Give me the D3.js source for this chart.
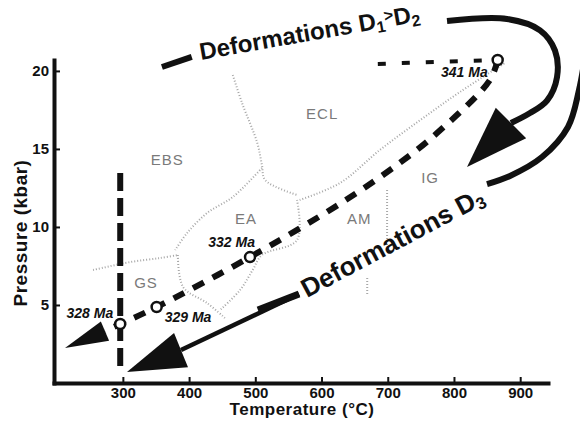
<!DOCTYPE html>
<html>
<head>
<meta charset="utf-8">
<script src="https://cdn.jsdelivr.net/npm/d3@7"></script>
<style>
  body { margin: 0; background: #fff; }
  svg { display: block; font-family: "Liberation Sans", Arial, sans-serif; }
</style>
</head>
<body>
<div id="chart"></div>
<script>
// P-T path (temperature in °C, pressure in kbar)
const pathT = [866, 854, 774, 718, 632, 492, 351, 296, 273];
const pathP = [20.7, 19.4, 16.0, 14.1, 11.6, 8.07, 4.87, 3.78, 3.33];
const pathTip = [212.6, 2.24];

// upper, flat part of the path before 341 Ma
const topT = [685, 862];
const topP = [20.45, 20.7];

// dated points
const ageLabels = ["341 Ma", "332 Ma", "329 Ma", "328 Ma"];
const ageT = [866, 492, 351, 296];
const ageP = [20.7, 8.07, 4.87, 3.78];

// vertical dashed line near 300 °C
const isoT = 296;
const isoP = [13.46, 1.09];

// facies fields
const zoneNames = ["EBS", "ECL", "EA", "AM", "IG", "GS"];
const zoneT = [367, 601, 486, 657, 764, 335];
const zoneP = [14.3, 17.24, 10.57, 10.57, 13.2, 6.47];

// faint facies boundaries [T, P]
const boundaries = [
  [[466, 19.74], [480, 17.94], [503, 15.38], [510, 13.97], [515, 13.0], [563, 12.05]],
  [[510, 13.78], [466, 11.92], [427, 10.89], [397, 9.61], [379, 8.52]],
  [[255, 7.24], [311, 7.75], [356, 8.01], [383, 8.2]],
  [[383, 8.2], [391, 6.15], [427, 5.13], [454, 4.17]],
  [[567, 11.73], [628, 12.82], [688, 14.93], [749, 16.85], [809, 18.65], [877, 20.51]],
  [[563, 11.73], [563, 9.16], [510, 8.2], [496, 7.24], [477, 5.96], [447, 4.68]],
  [[699, 12.37], [699, 8.84]],
  [[669, 6.73], [669, 5.64]]
];

// deformation arrows [T, P]
const d12Lead = [[359, 20.25], [404, 20.9]];
const d12Text = [418, 20.7];
const d12Curve = [[789.5, 23.2], [880, 23.33], [930, 22.6], [952.6, 21.3], [955.6, 19.6], [940.5, 18.1], [914.8, 17.3], [886.1, 16.66]];
const d12Tip = [819.7, 13.84];

const d3Curve = [[999.4, 21.34], [988.8, 18.78], [972.2, 16.41], [933, 14.48], [884.6, 13.27], [849.9, 12.75]];
const d3Text = [578, 5.45];
const d3Lead = [[566, 5.7], [504, 4.68]];
const d3Line = [[566, 5.7], [387.8, 2.11]];
const d3Tip = [306.2, 0.7];

const xTicks = [300, 400, 500, 600, 700, 800, 900];
const yTicks = [5, 10, 15, 20];

const width = 580, height = 421;
const ink = "#111";

const svg = d3.select("#chart").append("svg")
  .attr("width", width)
  .attr("height", height);

const x = d3.scaleLinear().domain([196, 942]).range([54, 548]);
const y = d3.scaleLinear().domain([0, 20.7]).range([383, 60]);

const line = d3.line().x(d => x(d[0])).y(d => y(d[1]));
const curvy = d3.line().x(d => x(d[0])).y(d => y(d[1])).curve(d3.curveCatmullRom);

// facies boundaries
svg.append("g")
  .attr("fill", "none")
  .attr("stroke", "#a8a8a8")
  .attr("stroke-width", 2)
  .attr("stroke-dasharray", "1,2")
  .selectAll("path")
  .data(boundaries)
  .join("path")
  .attr("d", d => curvy(d));

svg.append("g")
  .attr("fill", "#7a7a7a")
  .attr("font-size", 15)
  .attr("letter-spacing", 1)
  .attr("text-anchor", "middle")
  .attr("dominant-baseline", "central")
  .selectAll("text")
  .data(zoneNames)
  .join("text")
  .attr("x", (d, i) => x(zoneT[i]))
  .attr("y", (d, i) => y(zoneP[i]))
  .text(d => d);

// axes
const xAxis = svg.append("g")
  .attr("transform", `translate(0,${y(0)})`)
  .call(d3.axisBottom(x).tickValues(xTicks).tickSizeInner(-6).tickSizeOuter(0).tickPadding(4));
const yAxis = svg.append("g")
  .attr("transform", `translate(${x(196)},0)`)
  .call(d3.axisLeft(y).tickValues(yTicks).tickSizeInner(-6).tickSizeOuter(0).tickPadding(5));

[xAxis, yAxis].forEach(g => {
  g.select(".domain").attr("stroke", ink).attr("stroke-width", 4).attr("stroke-linecap", "square");
  g.selectAll(".tick line").attr("stroke", ink).attr("stroke-width", 2);
  g.selectAll(".tick text").attr("fill", ink).attr("font-size", 15).attr("font-weight", "bold")
    .attr("font-family", "'Liberation Sans', Arial, sans-serif");
});

svg.append("text")
  .attr("x", 302).attr("y", 415)
  .attr("text-anchor", "middle")
  .attr("font-size", 17).attr("font-weight", "bold").attr("letter-spacing", 0.5)
  .attr("fill", ink)
  .text("Temperature (°C)");

svg.append("text")
  .attr("transform", "translate(27,233) rotate(-90)")
  .attr("text-anchor", "middle")
  .attr("font-size", 19).attr("font-weight", "bold").attr("letter-spacing", 0.5)
  .attr("fill", ink)
  .text("Pressure (kbar)");

// vertical dashed line
svg.append("path")
  .attr("d", line(isoP.map(p => [isoT, p])))
  .attr("stroke", ink).attr("stroke-width", 6)
  .attr("stroke-dasharray", "18,7");

// arrows
function arrowHead(base, tip, half) {
  const bx = x(base[0]), by = y(base[1]), tx = x(tip[0]), ty = y(tip[1]);
  const len = Math.hypot(tx - bx, ty - by);
  const ux = (tx - bx) / len, uy = (ty - by) / len;
  svg.append("path")
    .attr("d", `M${tx},${ty}L${bx - uy * half},${by + ux * half}L${bx + uy * half},${by - ux * half}Z`)
    .attr("fill", ink);
}

svg.append("path").attr("d", line(d12Lead)).attr("stroke", ink).attr("stroke-width", 6);
svg.append("path").attr("d", curvy(d12Curve)).attr("fill", "none").attr("stroke", ink).attr("stroke-width", 6);
arrowHead(d12Curve[d12Curve.length - 1], d12Tip, 21.5);

svg.append("path").attr("d", curvy(d3Curve)).attr("fill", "none").attr("stroke", ink).attr("stroke-width", 6);
svg.append("path").attr("d", line(d3Line)).attr("stroke", ink).attr("stroke-width", 4.5);
svg.append("path").attr("d", line(d3Lead)).attr("stroke", ink).attr("stroke-width", 7);
arrowHead(d3Line[1], d3Tip, 18.5);

const t1 = svg.append("text")
  .attr("transform", `translate(${x(d12Text[0])},${y(d12Text[1])}) rotate(-10)`)
  .attr("font-size", 24).attr("font-weight", "bold").attr("fill", ink);
t1.append("tspan").text("Deformations D");
t1.append("tspan").attr("font-size", 16).attr("dy", 4).text("1");
t1.append("tspan").attr("font-size", 16).attr("dy", -10).text(">");
t1.append("tspan").attr("dy", 6).text("D");
t1.append("tspan").attr("font-size", 16).attr("dy", 4).text("2");

const t2 = svg.append("text")
  .attr("transform", `translate(${x(d3Text[0])},${y(d3Text[1])}) rotate(-28)`)
  .attr("font-size", 26).attr("font-weight", "bold").attr("fill", ink);
t2.append("tspan").text("Deformations D");
t2.append("tspan").attr("font-size", 17).attr("dy", 4).text("3");

// P-T path
const ptPts = pathT.map((t, i) => [t, pathP[i]]);
svg.append("path")
  .attr("d", curvy(ptPts))
  .attr("fill", "none").attr("stroke", ink).attr("stroke-width", 6)
  .attr("stroke-dasharray", "12,10");
arrowHead(ptPts[ptPts.length - 1], pathTip, 10.5);

svg.append("path")
  .attr("d", line(topT.map((t, i) => [t, topP[i]])))
  .attr("stroke", ink).attr("stroke-width", 4)
  .attr("stroke-dasharray", "8,16");

svg.append("g")
  .selectAll("circle")
  .data(ageLabels)
  .join("circle")
  .attr("cx", (d, i) => x(ageT[i]))
  .attr("cy", (d, i) => y(ageP[i]))
  .attr("r", 5)
  .attr("fill", "#fff").attr("stroke", ink).attr("stroke-width", 2.5);

const labelOffset = [[-10, 17, "end"], [5, -10, "end"], [8, 15, "start"], [-7, -6, "end"]];
svg.append("g")
  .attr("font-size", 14).attr("font-weight", "bold").attr("font-style", "italic").attr("fill", ink)
  .selectAll("text")
  .data(ageLabels)
  .join("text")
  .attr("x", (d, i) => x(ageT[i]) + labelOffset[i][0])
  .attr("y", (d, i) => y(ageP[i]) + labelOffset[i][1])
  .attr("text-anchor", (d, i) => labelOffset[i][2])
  .text(d => d);
</script>
</body>
</html>
